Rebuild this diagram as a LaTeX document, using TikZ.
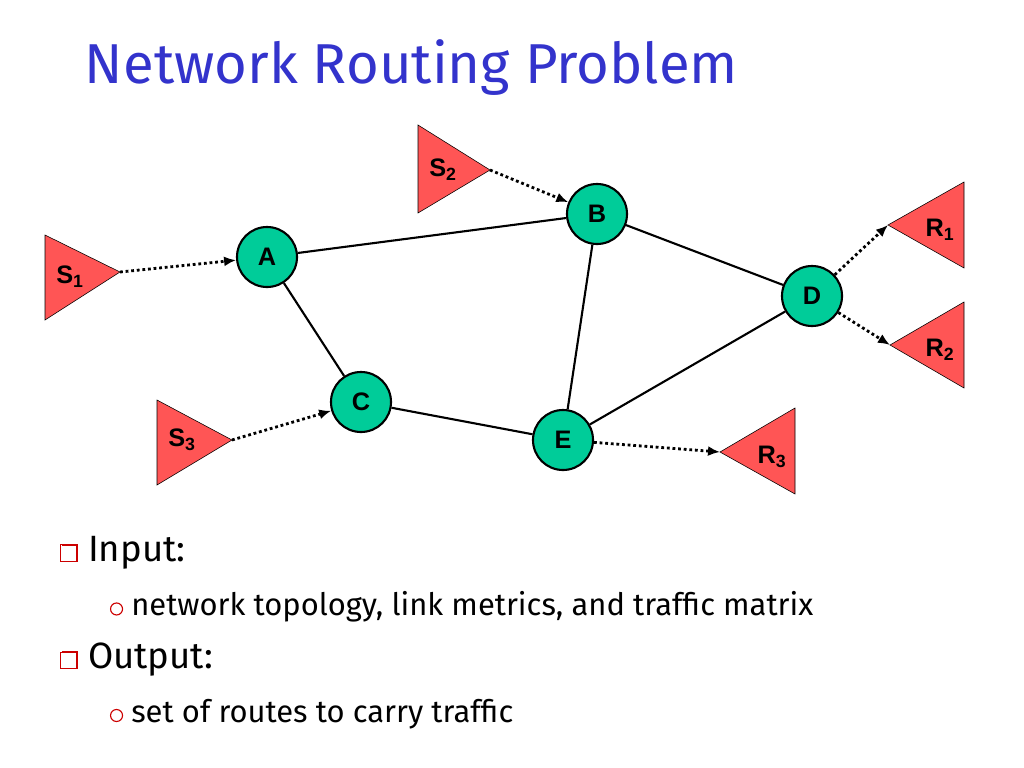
\documentclass[tikz,border=0pt]{standalone}
\usepackage{fontspec}
\setmainfont{Liberation Sans}
\newfontfamily\titlefont{Fira Sans}
\usetikzlibrary{arrows.meta}
\definecolor{nodegreen}{HTML}{00CC99}
\definecolor{trired}{HTML}{FF5555}
\definecolor{titleblue}{HTML}{3333CC}
\definecolor{bulletred}{HTML}{CC0000}
\newcommand{\boxbullet}{\tikz[baseline,x=1cm,y=1cm]{\draw[bulletred,thick] (0,0) rectangle (0.42,0.42); \draw[bulletred,line width=1.5pt] (0.42,0.03) -- (0.42,0.42) -- (0.03,0.42);}}
\newcommand{\ringbullet}{\tikz[baseline,x=1cm,y=1cm]{\draw[bulletred,thick] (0.17,0.17) circle (0.15);}}
\tikzset{
  router/.style={circle,draw,line width=1.5pt,fill=nodegreen,minimum size=1.5cm,inner sep=0pt,font=\fontsize{18}{18}\selectfont\bfseries},
  host/.style={draw,fill=trired},
  hlabel/.style={font=\fontsize{18}{18}\selectfont\bfseries},
  flow/.style={line width=2pt,dotted,-{Latex[length=3mm,width=2.5mm]}},
  link/.style={line width=1.5pt},
  bullet/.style={anchor=west,font=\titlefont\fontsize{26}{26}\selectfont}
}
\begin{document}
\begin{tikzpicture}[x=0.025cm,y=-0.025cm]
\useasboundingbox (0,0) rectangle (1024,768);

% title
\node[anchor=west,text=titleblue,font=\titlefont\fontsize{40}{40}\selectfont] (title) at (80,68) {Network Routing Problem};

% ROUTERS
\node[router] (A) at (267,257) {A};
\node[router] (B) at (597,214) {B};
\node[router] (C) at (361,402) {C};
\node[router] (D) at (812,296) {D};
\node[router] (E) at (563,440) {E};

% SOURCES
\draw[host] (45,235) -- (120,272) coordinate (s1) -- (45,320) -- cycle;
\draw[host] (418,125) -- (490,170) coordinate (s2) -- (418,213) -- cycle;
\draw[host] (157,400) -- (232,440) coordinate (s3) -- (157,485) -- cycle;
\node[hlabel] (S1) at (70,277) {S$_\mathbf{1}$};
\node[hlabel] (S2) at (443,170) {S$_\mathbf{2}$};
\node[hlabel] (S3) at (182,440) {S$_\mathbf{3}$};

% RECEIVERS
\draw[host] (964,182) -- (888,225) coordinate (r1) -- (964,268) -- cycle;
\draw[host] (964,302) -- (890,345) coordinate (r2) -- (964,388) -- cycle;
\draw[host] (795,408) -- (720,452) coordinate (r3) -- (795,494) -- cycle;
\node[hlabel] (R1) at (940,230) {R$_\mathbf{1}$};
\node[hlabel] (R2) at (940,350) {R$_\mathbf{2}$};
\node[hlabel] (R3) at (772,457) {R$_\mathbf{3}$};

% links
\draw[link] (A) -- (B);
\draw[link] (A) -- (C);
\draw[link] (B) -- (D);
\draw[link] (B) -- (E);
\draw[link] (C) -- (E);
\draw[link] (E) -- (D);

% flows
\draw[flow] (s1) -- (A);
\draw[flow] (s2) -- (B);
\draw[flow] (s3) -- (C);
\draw[flow] (D) -- (r1);
\draw[flow] (D) -- (r2);
\draw[flow] (E) -- (r3);

% bullets
\node[bullet] (in) at (55,553) {\boxbullet\ Input:};
\node[bullet,font=\titlefont\fontsize{22}{22}\selectfont] (inb) at (105,607) {\ringbullet\ network topology, link metrics, and traffic matrix};
\node[bullet] (out) at (55,660) {\boxbullet\ Output:};
\node[bullet,font=\titlefont\fontsize{22}{22}\selectfont] (outb) at (105,714) {\ringbullet\ set of routes to carry traffic};
\end{tikzpicture}
\end{document}
